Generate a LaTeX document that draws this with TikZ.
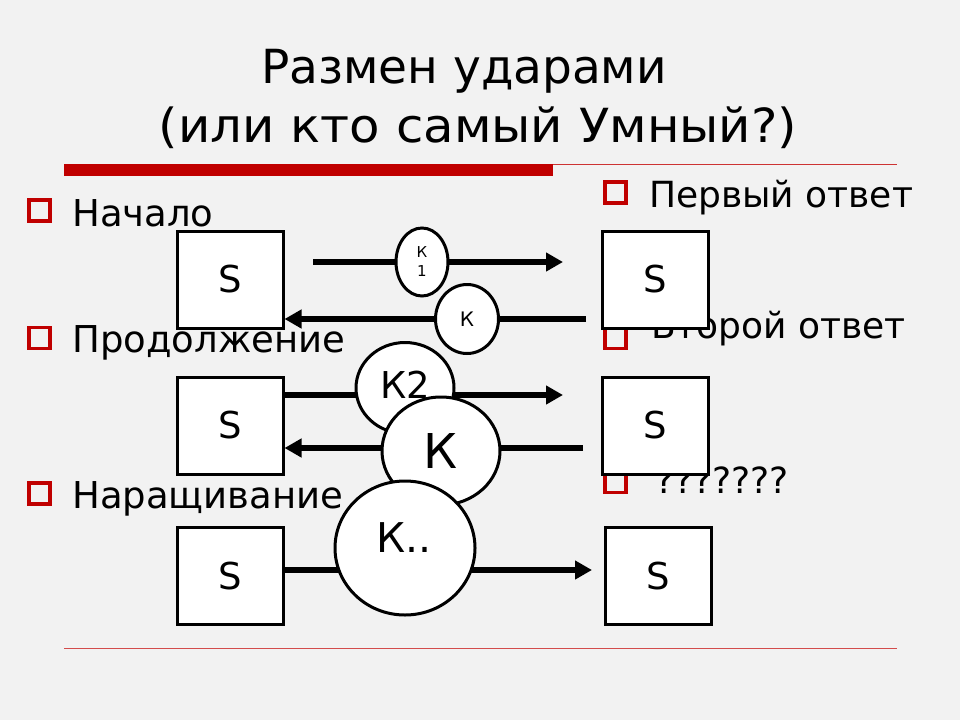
\documentclass[tikz,border=0pt]{standalone}
\usepackage{fontspec}
\setmainfont{DejaVu Sans}
\usetikzlibrary{arrows.meta}
\definecolor{bg}{HTML}{F2F2F2}
\definecolor{slred}{HTML}{C00000}
\tikzset{
  sbox/.style={draw=black, line width=3pt, fill=white, minimum width=106pt, minimum height=97pt, inner sep=0pt, font=\fontsize{37}{40}\selectfont},
  kell/.style={draw=black, line width=3pt, fill=white, ellipse, inner sep=0pt},
  arr/.style={line width=6pt, -{Triangle[length=17pt,width=18pt]}},
  bul/.style={draw=slred, line width=3.5pt, minimum size=21pt, inner sep=0pt},
  btext/.style={anchor=base west, inner sep=0pt, font=\fontsize{37}{40}\selectfont},
  rtext/.style={btext, font=\fontsize{36}{40}\selectfont},
  ttl/.style={anchor=base, inner sep=0pt, font=\fontsize{47}{50}\selectfont}
}
\usetikzlibrary{shapes.geometric}
\begin{document}
\begin{tikzpicture}[x=1pt,y=-1pt]
\fill[bg] (0,0) rectangle (960,720);
\useasboundingbox (0,0) rectangle (960,720);
% title
\node[ttl] (t1) at (464,83) {Размен ударами};
\node[ttl, xscale=1.06, transform shape] (t2) at (478,142) {(или кто самый Умный?)};
% rules
\fill[slred] (64,164) rectangle (553,176);
\draw[slred!80, line width=1pt] (553,164.5) -- (897,164.5);
\draw[slred!70, line width=1pt] (64,648) -- (897,648);
% left bullets
\node[bul] (b1) at (39.5,210.5) {};
\node[btext] (l1) at (72,226) {Начало};
\node[bul] (b2) at (39.5,338) {};
\node[btext] (l2) at (72,352) {Продолжение};
\node[bul] (b3) at (39.5,493.5) {};
\node[btext] (l3) at (72,508) {Наращивание};
% right bullets
\node[bul] (r1) at (615.5,192.5) {};
\node[rtext] (rt1) at (649,207) {Первый ответ};
\node[bul] (r2) at (615.5,338) {};
\node[rtext] (rt2) at (651,338) {Второй ответ};
\node[bul] (r3) at (615.5,482) {};
\node[rtext] (rt3) at (655,493) {???????};
% boxes
\node[sbox] (s1) at (230,279.5) {S};
\node[sbox] (s2) at (230,425.5) {S};
\node[sbox] (s3) at (230,576) {S};
\node[sbox] (d1) at (655.5,279.5) {S};
\node[sbox] (d2) at (655,425.5) {S};
\node[sbox] (d3) at (658.5,576) {S};
% arrow endpoints
\coordinate (a1s) at (313,262);
\coordinate (a1e) at (563,262);
\coordinate (a2s) at (586,319);
\coordinate (a3e) at (563,395);
\coordinate (a4s) at (583,448);
\coordinate (a5e) at (592,570);
\draw[arr] (a1s) -- (a1e);
\draw[arr] (a2s) -- (s1.east |- a2s);
\draw[arr] (s2.east |- a3e) -- (a3e);
\draw[arr] (a4s) -- (s2.east |- a4s);
\draw[arr] (s3.east |- a5e) -- (a5e);
% circles
\node[kell, minimum width=52pt, minimum height=68pt] (k1) at (422,262) {};
\node[anchor=base, inner sep=0pt, font=\fontsize{15}{17}\selectfont] (k1a) at (422,257) {К};
\node[anchor=base, inner sep=0pt, font=\fontsize{15}{17}\selectfont] (k1b) at (422,276) {1};
\node[kell, minimum width=63pt, minimum height=69pt, font=\fontsize{20}{22}\selectfont] (k) at (467,319) {К};
\node[kell, minimum width=98pt, minimum height=91pt] (k2) at (405,388) {};
\node[anchor=base, inner sep=0pt, font=\fontsize{37}{40}\selectfont] (k2t) at (405,398) {К2};
\node[kell, minimum width=118pt, minimum height=108pt, font=\fontsize{48}{50}\selectfont] (kb) at (441,451) {К};
\node[kell, minimum width=140pt, minimum height=134pt] (kd) at (405,548) {};
\node[anchor=base, inner sep=0pt, font=\fontsize{41}{44}\selectfont] (kdt) at (404,552) {К..};
\end{tikzpicture}
\end{document}
